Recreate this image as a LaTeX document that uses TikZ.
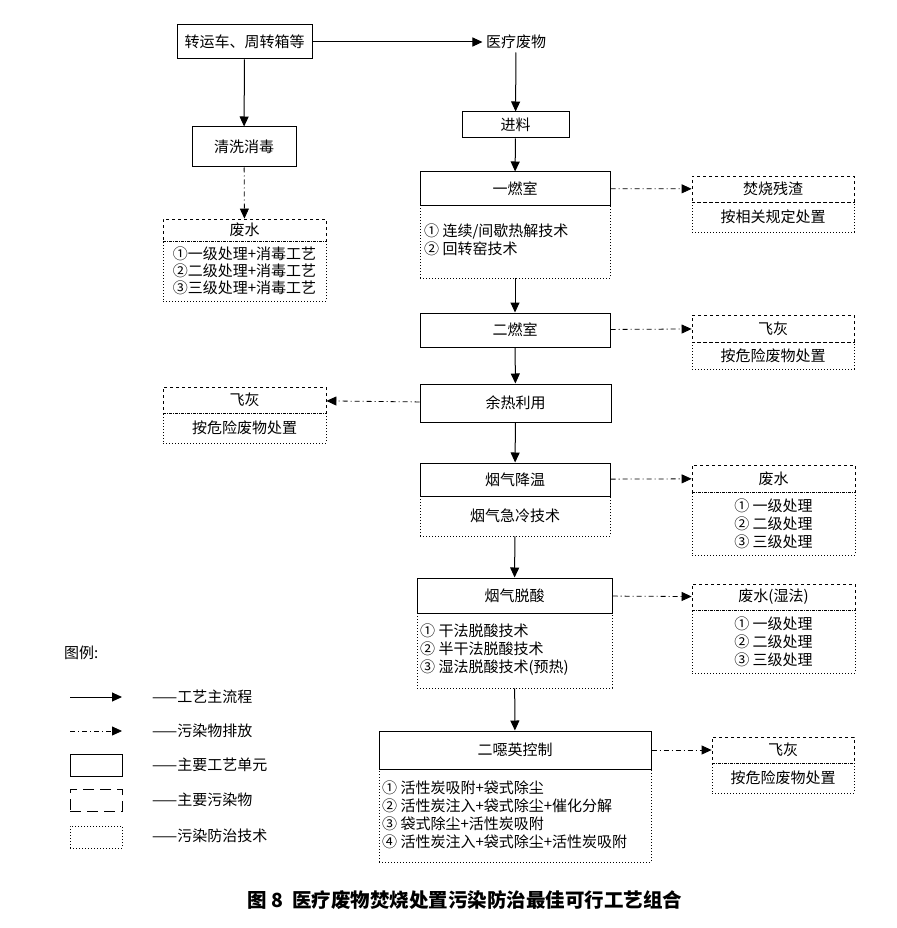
\documentclass[tikz,border=0pt]{standalone}
\usepackage{fontspec}
\setmainfont{Noto Sans CJK SC}
\usetikzlibrary{arrows.meta}

\tikzset{
  proc/.style={draw, line width=1pt, inner sep=0pt, font=\fontsize{15}{17}\selectfont},
  pol/.style={draw, dashed, line width=.8pt, inner sep=0pt, font=\fontsize{15}{17}\selectfont},
  tech/.style={draw, dash pattern=on 1pt off 2pt, line width=.8pt, inner sep=0pt, align=center, font=\fontsize{15}{18}\selectfont},
  lst/.style={align=left, inner sep=0pt, anchor=west, font=\fontsize{15}{18}\selectfont},
  main/.style={->, line width=1pt},
  emit/.style={->, line width=.8pt, dash pattern=on 5pt off 3pt on 1pt off 3pt},
}

\begin{document}
\begin{tikzpicture}[x=1pt, y=-1pt, >={Triangle[length=10pt,width=9pt]}]
\useasboundingbox (0,0) rectangle (896,928);

% main line
\node[proc, minimum width=135pt, minimum height=34pt] (cart) at (244.5,42) {转运车、周转箱等};
\node[font=\fontsize{15}{17}\selectfont] (waste) at (516,42) {医疗废物};
\node[proc, minimum width=107pt, minimum height=26pt] (feed) at (515.5,125) {进料};
\node[proc, minimum width=104pt, minimum height=40pt] (wash) at (244,147) {清洗消毒};
\node[pol, minimum width=163pt, minimum height=22pt] (ww1) at (244.5,230) {废水};
\node[tech, minimum width=163pt, minimum height=60pt, font=\fontsize{15}{17}\selectfont] (ww1b) at (244.5,271) {①一级处理+消毒工艺\\②二级处理+消毒工艺\\③三级处理+消毒工艺};

\node[tech, minimum width=190pt, minimum height=73pt] (c1t) at (515,241.5) {};
\node[proc, minimum width=190pt, minimum height=33pt] (c1) at (515,188.5) {一燃室};
\node[lst] at (424,240) {① 连续/间歇热解技术\\② 回转窑技术};
\node[pol, minimum width=162pt, minimum height=26pt] (slag) at (773,189) {焚烧残渣};
\node[tech, minimum width=162pt, minimum height=30pt] (slagb) at (773,217) {按相关规定处置};

\node[proc, minimum width=190pt, minimum height=34pt] (c2) at (515,330) {二燃室};
\node[pol, minimum width=162pt, minimum height=27pt] (fa1) at (773,328.5) {飞灰};
\node[tech, minimum width=162pt, minimum height=27pt] (fa1b) at (773,355.5) {按危险废物处置};

\node[proc, minimum width=191pt, minimum height=38pt] (heat) at (515.5,403) {余热利用};
\node[pol, minimum width=163pt, minimum height=26pt] (fa2) at (244.5,400) {飞灰};
\node[tech, minimum width=163pt, minimum height=30pt] (fa2b) at (244.5,428) {按危险废物处置};

\node[tech, minimum width=190pt, minimum height=40pt] (coolt) at (515,516) {烟气急冷技术};
\node[proc, minimum width=190pt, minimum height=33pt] (cool) at (515,479.5) {烟气降温};
\node[pol, minimum width=163pt, minimum height=27pt] (ww2) at (773.5,478.5) {废水};
\node[tech, minimum width=163pt, minimum height=63pt] (ww2b) at (773.5,523.5) {① 一级处理\\② 二级处理\\③ 三级处理};

\node[tech, minimum width=195pt, minimum height=75pt] (acidt) at (514.5,650.5) {};
\node[proc, minimum width=195pt, minimum height=35pt] (acid) at (514.5,595.5) {烟气脱酸};
\node[lst] at (420,650) {① 干法脱酸技术\\② 半干法脱酸技术\\③ 湿法脱酸技术(预热)};
\node[pol, minimum width=163pt, minimum height=26pt] (ww3) at (773.5,597) {废水(湿法)};
\node[tech, minimum width=163pt, minimum height=63pt] (ww3b) at (773.5,641.5) {① 一级处理\\② 二级处理\\③ 三级处理};

\node[tech, minimum width=272pt, minimum height=93pt] (dioxt) at (515,815.5) {};
\node[proc, minimum width=272pt, minimum height=38pt] (diox) at (515,750) {二噁英控制};
\node[lst] at (382,815) {① 活性炭吸附+袋式除尘\\② 活性炭注入+袋式除尘+催化分解\\③ 袋式除尘+活性炭吸附\\④ 活性炭注入+袋式除尘+活性炭吸附};
\node[pol, minimum width=142pt, minimum height=26pt] (fa3) at (783,750) {飞灰};
\node[tech, minimum width=142pt, minimum height=30pt] (fa3b) at (783,778) {按危险废物处置};

% arrows
\draw[main] (cart) -- (waste);
\draw[main] (cart) -- (wash);
\draw[main] (waste) -- (feed);
\draw[main] (feed) -- (c1);
\draw[main] (c1t) -- (c2);
\draw[main] (c2) -- (heat);
\draw[main] (heat) -- (cool);
\draw[main] (coolt) -- (acid);
\draw[main] (acidt) -- (diox);
\draw[emit] (wash) -- (ww1);
\draw[emit] (c1) -- (slag);
\draw[emit] (c2) -- (fa1);
\draw[emit] (heat) -- (fa2);
\draw[emit] (cool) -- (ww2);
\draw[emit] (acid) -- (ww3);
\draw[emit] (diox) -- (fa3);

% legend
\node[lst, font=\fontsize{15}{17}\selectfont] (lgd) at (64,653) {图例:};
\coordinate (la) at (70,697);
\coordinate (lb) at (70,731);
\draw[main] (la) -- ++(52,0);
\draw[emit] (lb) -- ++(52,0);
\node[proc, minimum width=52pt, minimum height=22pt] (lgp) at (96,765) {};
\node[draw, dash pattern=on 11pt off 6pt, line width=.8pt, minimum width=52pt, minimum height=22pt] (lgw) at (96,800) {};
\node[tech, minimum width=52pt, minimum height=22pt] (lgt) at (96,837) {};
\node[lst] at (152,697) {——工艺主流程};
\node[lst] at (152,731) {——污染物排放};
\node[lst] at (152,765) {——主要工艺单元};
\node[lst] at (152,800) {——主要污染物};
\node[lst] at (152,836) {——污染防治技术};

\node[font=\bfseries\fontsize{19.5}{22}\selectfont] (title) at (465,900) {图 8\ \ 医疗废物焚烧处置污染防治最佳可行工艺组合};
\end{tikzpicture}
\end{document}
